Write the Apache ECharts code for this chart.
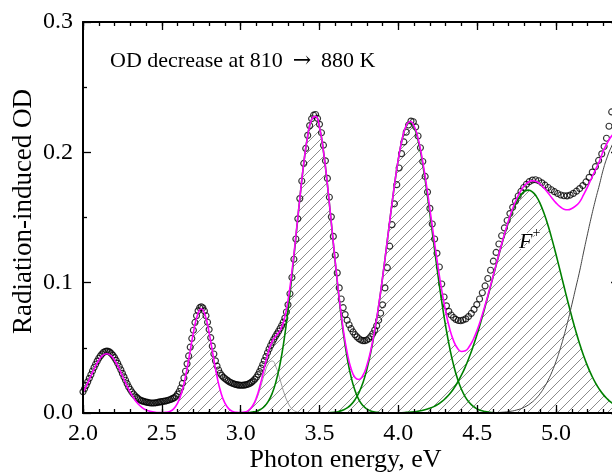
<!DOCTYPE html>
<html><head><meta charset="utf-8">
<script src="https://cdn.jsdelivr.net/npm/echarts@6/dist/echarts.min.js"></script>
<style>html,body{margin:0;padding:0;background:#fff}#c{width:612px;height:474px}</style>
</head><body><div id="c"></div>
<script>
// measured radiation-induced OD (open circles): [photon energy eV, OD]
const measured = [
[2.00,0.0163],[2.01,0.0186],[2.02,0.0212],[2.03,0.0239],[2.04,0.0266],[2.05,0.0294],[2.06,0.0322],[2.07,0.0349],[2.08,0.0374],[2.09,0.0398],
[2.10,0.0420],[2.11,0.0438],[2.12,0.0453],[2.13,0.0465],[2.14,0.0472],[2.15,0.0475],[2.16,0.0473],[2.17,0.0467],[2.18,0.0456],[2.19,0.0442],
[2.20,0.0425],[2.21,0.0404],[2.22,0.0381],[2.23,0.0357],[2.24,0.0331],[2.25,0.0304],[2.26,0.0277],[2.27,0.0251],[2.28,0.0225],[2.29,0.0200],
[2.30,0.0180],[2.31,0.0161],[2.32,0.0146],[2.33,0.0132],[2.34,0.0120],[2.35,0.0110],[2.36,0.0102],[2.37,0.0095],[2.38,0.0091],[2.39,0.0087],
[2.40,0.0084],[2.41,0.0081],[2.42,0.0079],[2.43,0.0077],[2.44,0.0077],[2.45,0.0077],[2.46,0.0078],[2.47,0.0080],[2.48,0.0083],[2.49,0.0085],
[2.50,0.0087],[2.51,0.0090],[2.52,0.0091],[2.53,0.0094],[2.54,0.0098],[2.55,0.0102],[2.56,0.0106],[2.57,0.0112],[2.58,0.0118],[2.59,0.0129],
[2.60,0.0145],[2.61,0.0165],[2.62,0.0192],[2.63,0.0226],[2.64,0.0269],[2.65,0.0320],[2.66,0.0377],[2.67,0.0438],[2.68,0.0505],[2.69,0.0572],
[2.70,0.0635],[2.71,0.0695],[2.72,0.0746],[2.73,0.0784],[2.74,0.0808],[2.75,0.0815],[2.76,0.0807],[2.77,0.0783],[2.78,0.0746],[2.79,0.0696],
[2.80,0.0640],[2.81,0.0578],[2.82,0.0513],[2.83,0.0453],[2.84,0.0400],[2.85,0.0360],[2.86,0.0330],[2.87,0.0305],[2.88,0.0288],[2.89,0.0275],
[2.90,0.0265],[2.91,0.0255],[2.92,0.0246],[2.93,0.0238],[2.94,0.0232],[2.95,0.0226],[2.96,0.0222],[2.97,0.0219],[2.98,0.0216],[2.99,0.0214],
[3.00,0.0213],[3.01,0.0213],[3.02,0.0214],[3.03,0.0216],[3.04,0.0219],[3.05,0.0223],[3.06,0.0229],[3.07,0.0237],[3.08,0.0247],[3.09,0.0260],
[3.10,0.0275],[3.11,0.0295],[3.12,0.0318],[3.13,0.0344],[3.14,0.0372],[3.15,0.0402],[3.16,0.0432],[3.17,0.0462],[3.18,0.0491],[3.19,0.0518],
[3.20,0.0543],[3.21,0.0566],[3.22,0.0587],[3.23,0.0607],[3.24,0.0627],[3.25,0.0648],[3.26,0.0671],[3.27,0.0697],[3.28,0.0728],[3.29,0.0775],
[3.30,0.0830],
[3.3125,0.0915],[3.325,0.1040],[3.3375,0.1180],[3.35,0.1335],[3.3625,0.1490],[3.375,0.1645],[3.3875,0.1780],[3.40,0.1915],[3.4125,0.2030],[3.425,0.2130],
[3.4375,0.2205],[3.45,0.2258],[3.4625,0.2285],[3.475,0.2290],[3.4875,0.2260],[3.50,0.2215],[3.5125,0.2150],[3.525,0.2055],[3.5375,0.1935],[3.55,0.1800],
[3.5625,0.1655],[3.575,0.1505],[3.5875,0.1355],[3.60,0.1210],[3.6125,0.1075],[3.625,0.0960],[3.6375,0.0875],[3.65,0.0808],[3.6625,0.0755],[3.675,0.0712],
[3.6875,0.0677],[3.70,0.0647],[3.7125,0.0622],[3.725,0.0601],[3.7375,0.0584],[3.75,0.0570],[3.7625,0.0560],[3.775,0.0555],[3.7875,0.0555],[3.80,0.0560],
[3.8125,0.0570],[3.825,0.0586],[3.8375,0.0608],[3.85,0.0636],[3.8625,0.0670],[3.875,0.0712],[3.8875,0.0765],[3.90,0.0830],
[3.915,0.0960],[3.93,0.1115],[3.945,0.1280],[3.96,0.1445],[3.975,0.1605],[3.99,0.1752],[4.005,0.1880],[4.02,0.1990],[4.035,0.2080],[4.05,0.2155],
[4.065,0.2210],[4.08,0.2240],[4.095,0.2235],[4.11,0.2195],[4.125,0.2125],[4.14,0.2035],[4.155,0.1930],[4.17,0.1815],[4.185,0.1695],[4.20,0.1570],
[4.215,0.1450],[4.23,0.1335],[4.245,0.1225],[4.26,0.1120],[4.275,0.0990],[4.29,0.0890],[4.305,0.0822],[4.32,0.0780],[4.335,0.0752],[4.35,0.0733],
[4.365,0.0718],[4.38,0.0710],[4.395,0.0708],[4.41,0.0713],
[4.4275,0.0722],[4.445,0.0740],[4.4625,0.0764],[4.48,0.0795],[4.4975,0.0832],[4.515,0.0875],[4.5325,0.0923],[4.55,0.0975],[4.5675,0.1032],[4.585,0.1095],
[4.6025,0.1165],[4.62,0.1232],[4.6375,0.1297],[4.655,0.1360],[4.6725,0.1420],[4.69,0.1477],[4.7075,0.1530],[4.725,0.1578],[4.7425,0.1624],[4.76,0.1665],
[4.7775,0.1700],[4.795,0.1730],[4.8125,0.1755],[4.83,0.1775],[4.85,0.1787],[4.87,0.1790],[4.89,0.1782],[4.91,0.1766],[4.93,0.1748],[4.95,0.1730],
[4.97,0.1713],[4.99,0.1698],[5.01,0.1684],[5.03,0.1673],[5.05,0.1667],[5.07,0.1666],[5.09,0.1672],[5.11,0.1685],[5.13,0.1702],[5.15,0.1722],
[5.17,0.1745],[5.19,0.1773],[5.21,0.1808],[5.23,0.1848],[5.25,0.1890],[5.27,0.1938],[5.29,0.1988],[5.305,0.2045],[5.32,0.2108],[5.336,0.2200],
[5.353,0.2310]
];

// total fit (magenta)
const fitSum = [
[2.000,0.0158],[2.025,0.0218],[2.050,0.0284],[2.075,0.0349],[2.100,0.0405],[2.125,0.0442],[2.150,0.0455],[2.175,0.0442],[2.200,0.0405],[2.225,0.0349],
[2.250,0.0284],[2.275,0.0218],[2.300,0.0158],[2.325,0.0108],[2.350,0.0069],[2.375,0.0042],[2.400,0.0024],[2.425,0.0013],[2.450,0.0007],[2.475,0.0003],
[2.500,0.0003],[2.525,0.0005],[2.550,0.0012],[2.575,0.0032],[2.600,0.0075],[2.625,0.0155],[2.650,0.0280],[2.675,0.0443],[2.700,0.0615],[2.725,0.0749],
[2.750,0.0800],[2.775,0.0749],[2.800,0.0615],[2.825,0.0443],[2.850,0.0280],[2.875,0.0155],[2.900,0.0075],[2.925,0.0032],[2.950,0.0012],[2.975,0.0005],
[3.000,0.0003],[3.025,0.0007],[3.050,0.0021],[3.075,0.0054],[3.100,0.0118],[3.125,0.0220],[3.150,0.0346],[3.175,0.0466],[3.200,0.0549],[3.225,0.0595],
[3.250,0.0633],[3.275,0.0712],[3.300,0.0862],[3.325,0.1084],[3.350,0.1358],[3.375,0.1647],[3.400,0.1915],[3.425,0.2126],[3.450,0.2252],[3.475,0.2276],
[3.500,0.2191],[3.525,0.2009],[3.550,0.1754],[3.575,0.1460],[3.600,0.1159],[3.625,0.0882],[3.650,0.0646],[3.675,0.0465],[3.700,0.0341],[3.725,0.0273],
[3.750,0.0257],[3.775,0.0288],[3.800,0.0364],[3.825,0.0480],[3.850,0.0635],[3.875,0.0824],[3.900,0.1041],[3.925,0.1276],[3.950,0.1517],[3.975,0.1746],
[4.000,0.1949],[4.025,0.2106],[4.050,0.2205],[4.075,0.2237],[4.100,0.2202],[4.125,0.2107],[4.150,0.1960],[4.175,0.1774],[4.200,0.1565],[4.225,0.1346],
[4.250,0.1135],[4.275,0.0943],[4.300,0.0780],[4.325,0.0649],[4.350,0.0555],[4.375,0.0497],[4.400,0.0472],[4.425,0.0477],[4.450,0.0510],[4.475,0.0564],
[4.500,0.0637],[4.525,0.0726],[4.550,0.0826],[4.575,0.0934],[4.600,0.1047],[4.625,0.1161],[4.650,0.1274],[4.675,0.1380],[4.700,0.1480],[4.725,0.1568],
[4.750,0.1643],[4.775,0.1702],[4.800,0.1745],[4.825,0.1772],[4.850,0.1782],[4.875,0.1776],[4.900,0.1755],[4.925,0.1724],[4.950,0.1688],[4.975,0.1648],
[5.000,0.1612],[5.025,0.1583],[5.050,0.1564],[5.075,0.1559],[5.100,0.1569],[5.125,0.1590],[5.150,0.1620],[5.175,0.1675],[5.200,0.1735],[5.225,0.1801],
[5.250,0.1866],[5.275,0.1932],[5.300,0.2011],[5.325,0.2073],[5.350,0.2121],[5.375,0.2155],[5.400,0.2174]
];

// band near 3.2 eV (light grey)
const bandGrey = [
[2.90,0],[2.95,0.0001],[3.000,0.0001],[3.025,0.0006],[3.050,0.0018],[3.075,0.0047],[3.100,0.0105],[3.125,0.0193],[3.150,0.0296],[3.175,0.0377],
[3.200,0.0399],[3.225,0.0350],[3.250,0.0255],[3.275,0.0155],[3.300,0.0078],[3.325,0.0032],[3.350,0.0011],[3.375,0.0003],[3.400,0.0001],[3.45,0]
];

// band near 3.47 eV (green)
const bandG1 = [
[2.00,0],[3.000,0.0001],[3.025,0.0001],[3.050,0.0003],[3.075,0.0007],[3.100,0.0014],[3.125,0.0027],[3.150,0.0050],[3.175,0.0089],[3.200,0.0151],
[3.225,0.0245],[3.250,0.0378],[3.275,0.0558],[3.300,0.0785],[3.325,0.1052],[3.350,0.1347],[3.375,0.1644],[3.400,0.1914],[3.425,0.2126],[3.450,0.2252],
[3.475,0.2276],[3.500,0.2190],[3.525,0.2008],[3.550,0.1752],[3.575,0.1456],[3.600,0.1152],[3.625,0.0869],[3.650,0.0623],[3.675,0.0426],[3.700,0.0277],
[3.725,0.0172],[3.750,0.0101],[3.775,0.0057],[3.800,0.0031],[3.825,0.0016],[3.850,0.0008],[3.875,0.0004],[3.900,0.0002],[3.95,0],[5.40,0]
];

// band near 4.07 eV (green)
const bandG2 = [
[2.00,0],[3.45,0],[3.500,0.0001],[3.550,0.0002],[3.600,0.0007],[3.625,0.0013],[3.650,0.0023],[3.675,0.0039],[3.700,0.0064],[3.725,0.0102],
[3.750,0.0156],[3.775,0.0231],[3.800,0.0333],[3.825,0.0465],[3.850,0.0627],[3.875,0.0820],[3.900,0.1039],[3.925,0.1275],[3.950,0.1516],[3.975,0.1745],
[4.000,0.1947],[4.025,0.2103],[4.050,0.2200],[4.075,0.2230],[4.100,0.2192],[4.125,0.2093],[4.150,0.1941],[4.175,0.1747],[4.200,0.1528],[4.225,0.1297],
[4.250,0.1069],[4.275,0.0856],[4.300,0.0666],[4.325,0.0503],[4.350,0.0369],[4.375,0.0263],[4.400,0.0182],[4.425,0.0122],[4.450,0.0080],[4.475,0.0050],
[4.500,0.0031],[4.525,0.0019],[4.550,0.0011],[4.575,0.0006],[4.600,0.0003],[4.650,0.0001],[4.70,0],[5.40,0]
];

// F+ band near 4.82 eV (green)
const bandF = [
[2.00,0],[3.90,0],[4.000,0.0002],[4.050,0.0005],[4.100,0.0010],[4.150,0.0019],[4.200,0.0037],[4.225,0.0049],[4.250,0.0066],[4.275,0.0087],
[4.300,0.0114],[4.325,0.0146],[4.350,0.0186],[4.375,0.0234],[4.400,0.0290],[4.425,0.0355],[4.450,0.0430],[4.475,0.0514],[4.500,0.0606],[4.525,0.0707],
[4.550,0.0815],[4.575,0.0927],[4.600,0.1042],[4.625,0.1156],[4.650,0.1268],[4.675,0.1373],[4.700,0.1469],[4.725,0.1552],[4.750,0.1620],[4.775,0.1670],
[4.800,0.1700],[4.825,0.1710],[4.850,0.1697],[4.875,0.1662],[4.900,0.1605],[4.925,0.1528],[4.950,0.1436],[4.975,0.1330],[5.000,0.1216],[5.025,0.1096],
[5.050,0.0974],[5.075,0.0854],[5.100,0.0739],[5.125,0.0630],[5.150,0.0530],[5.175,0.0440],[5.200,0.0360],[5.225,0.0291],[5.250,0.0231],[5.275,0.0182],
[5.300,0.0141],[5.325,0.0108],[5.350,0.0081],[5.375,0.0060],[5.400,0.0044]
];

// UV band above 5.3 eV (dark grey)
const bandUV = [
[4.60,0.0002],[4.65,0.0005],[4.70,0.0011],[4.75,0.0023],[4.80,0.0045],[4.85,0.0085],[4.875,0.0114],[4.90,0.0150],[4.925,0.0196],[4.95,0.0252],
[4.975,0.0318],[5.00,0.0396],[5.025,0.0487],[5.05,0.0590],[5.075,0.0705],[5.10,0.0830],[5.125,0.0960],[5.15,0.1090],[5.175,0.1235],[5.20,0.1375],
[5.225,0.1510],[5.25,0.1635],[5.275,0.1750],[5.30,0.1870],[5.325,0.1965],[5.35,0.2040],[5.375,0.2095],[5.40,0.2130]
];

const annotation = 'OD decrease at 810\u2009 {arr|\u2192} \u2009880 K';
const xTitle = 'Photon energy, eV';
const yTitle = 'Radiation-induced OD';

// hatched region: bands that decreased (built from the arrays above)
const hatchTop = fitSum.filter(p => p[0] >= 2.45 && p[0] < 4.6).concat(bandF.filter(p => p[0] >= 4.6));

const pat = document.createElement('canvas');
pat.width = 10; pat.height = 10;
const g = pat.getContext('2d');
g.strokeStyle = '#8c8c8c'; g.lineWidth = 1;
g.beginPath();
g.moveTo(0, 10); g.lineTo(10, 0);
g.moveTo(-1, 1); g.lineTo(1, -1);
g.moveTo(9, 11); g.lineTo(11, 9);
g.stroke();

const FONT = '"Liberation Serif", "Times New Roman", serif';
const chart = echarts.init(document.getElementById('c'), null, {renderer: 'canvas'});

const baseX = (pos, interval, len, labels) => ({
  type: 'value', min: 2, max: 5.4, interval: interval, position: pos, z: 5,
  axisLine: {show: labels, lineStyle: {color: '#000', width: 2}},
  axisTick: {show: true, inside: true, length: len, lineStyle: {color: '#000', width: 1.3}},
  axisLabel: labels && pos === 'bottom' ? {show: true, margin: 9, color: '#000', fontFamily: FONT, fontSize: 24,
     formatter: v => (v > 5.2 ? '' : v.toFixed(1))} : {show: false},
  splitLine: {show: false}
});
const baseY = (pos) => ({
  type: 'value', min: 0, max: 0.3, interval: 0.1, position: pos, z: 5,
  axisLine: {show: true, lineStyle: {color: '#000', width: 2}},
  axisTick: {show: true, inside: true, length: 8, lineStyle: {color: '#000', width: 1.3}},
  minorTick: {show: true, splitNumber: 2, length: 4, lineStyle: {color: '#000', width: 1.3}},
  axisLabel: pos === 'left' ? {show: true, margin: 10, color: '#000', fontFamily: FONT, fontSize: 24,
     formatter: v => v.toFixed(1)} : {show: false},
  splitLine: {show: false}
});

const lineS = (data, color, width, z) => ({
  type: 'line', data: data, xAxisIndex: 0, yAxisIndex: 0, smooth: true, symbol: 'none',
  lineStyle: {color: color, width: width}, z: z, silent: true
});

chart.setOption({
  animation: false,
  grid: {left: 83, right: -7.1, top: 22, bottom: 61, outerBoundsMode: 'none', containLabel: false},
  xAxis: [baseX('bottom', 0.5, 8, true), baseX('bottom', 0.1, 4, false), baseX('top', 0.5, 8, true), baseX('top', 0.1, 4, false)],
  yAxis: [baseY('left'), baseY('right')],
  series: [
    {type: 'line', data: hatchTop, smooth: true, symbol: 'none', lineStyle: {width: 0, opacity: 0},
     areaStyle: {color: {image: pat, repeat: 'repeat'}, opacity: 1}, z: 1, silent: true},
    {type: 'scatter', data: measured, symbol: 'circle', symbolSize: 6,
     itemStyle: {color: 'rgba(255,255,255,0)', borderColor: '#000', borderWidth: 1.15}, z: 2, silent: true},
    lineS(bandGrey, '#9a9a9a', 1, 3),
    lineS(bandG1, '#008000', 1.6, 3),
    lineS(bandG2, '#008000', 1.6, 3),
    lineS(bandF, '#008000', 1.6, 3),
    lineS(bandUV, '#444444', 1, 3),
    lineS(fitSum, '#ff00ff', 1.6, 4)
  ],
  graphic: [
    {type: 'text', x: 110, y: 61, z: 10, style: {text: annotation, font: '22px ' + FONT, fill: '#000', align: 'left', verticalAlign: 'middle',
      rich: {arr: {fontFamily: '"DejaVu Serif", serif', fontSize: 22, fill: '#000', color: '#000'}}}},
    {type: 'text', x: 345.5, y: 460, z: 10, style: {text: xTitle, font: '26px ' + FONT, fill: '#000', align: 'center', verticalAlign: 'middle'}},
    {type: 'text', x: 23.5, y: 211.5, rotation: Math.PI / 2, z: 10, style: {text: yTitle, font: '27px ' + FONT, fill: '#000', align: 'center', verticalAlign: 'middle'}},
    {type: 'text', x: 519, y: 242.6, z: 10, style: {text: 'F', font: 'italic 22px ' + FONT, fill: '#000', stroke: '#fff', lineWidth: 2, align: 'left', verticalAlign: 'middle'}},
    {type: 'text', x: 532.5, y: 233, z: 10, style: {text: '+', font: '14px ' + FONT, fill: '#000', stroke: '#fff', lineWidth: 2, align: 'left', verticalAlign: 'middle'}}
  ]
});
</script></body></html>
